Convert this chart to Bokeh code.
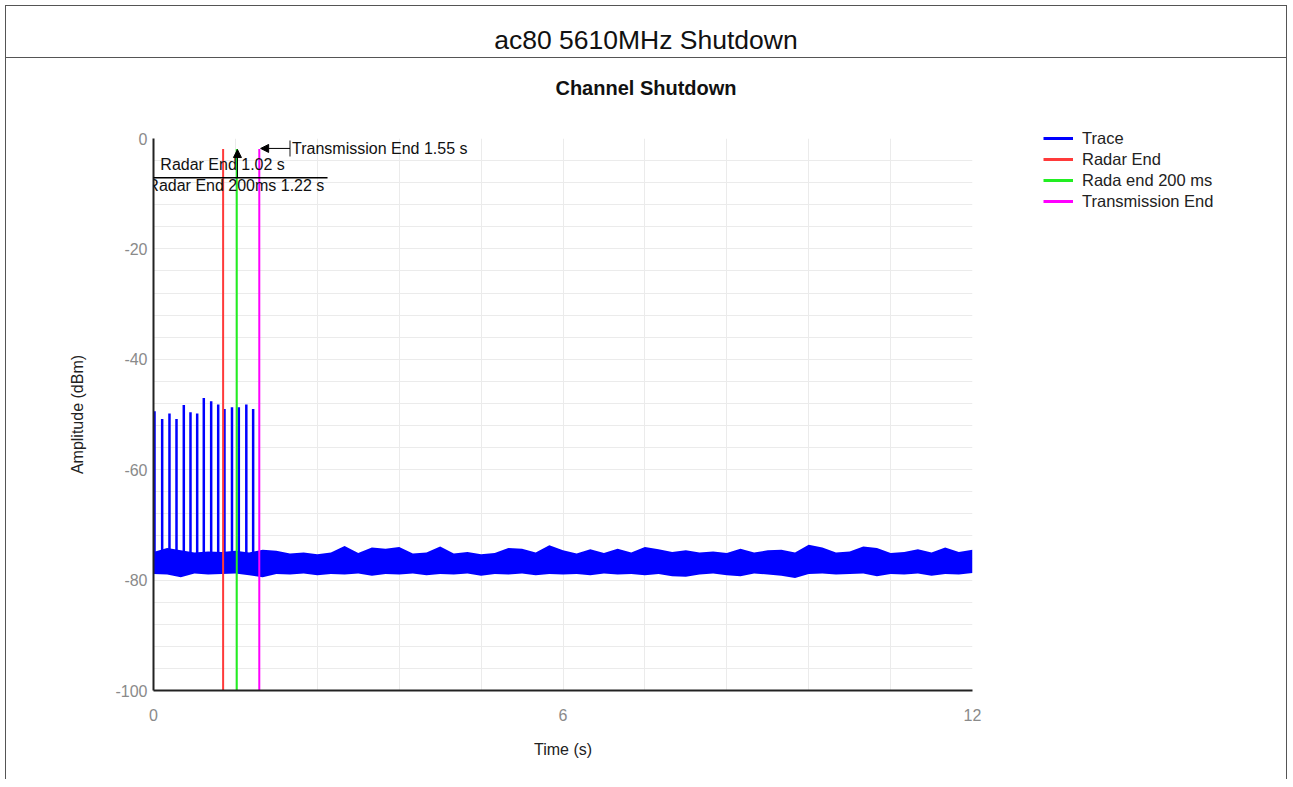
from bokeh.plotting import figure
from bokeh.models import (Div, Label, Arrow, NormalHead, TeeHead, Legend, LegendItem,
                          FixedTicker, Range1d, PrintfTickFormatter)
from bokeh.layouts import column, row
from bokeh.embed import file_html
from bokeh.resources import INLINE

# ---------------- data ----------------
page_title = "ac80 5610MHz Shutdown"
chart_title = "Channel Shutdown"

# noise-floor envelope of the trace, sampled every 0.2 s (dBm)
env_t = [round(0.2 * i, 1) for i in range(61)]
env_upper = [-74.9, -74.2, -74.6, -75.0, -74.8, -74.9, -74.7, -75.0, -74.5, -74.7,
             -75.2, -75.0, -75.3, -75.0, -73.8, -75.1, -74.1, -74.3, -74.0, -75.2,
             -75.0, -73.9, -75.2, -74.9, -75.3, -75.1, -74.2, -74.3, -75.0, -73.7,
             -74.6, -75.2, -74.4, -75.1, -74.3, -75.0, -74.0, -74.4, -74.9, -74.6,
             -75.0, -74.8, -75.1, -74.3, -75.0, -74.6, -74.5, -75.0, -73.6, -74.1,
             -75.0, -74.8, -73.9, -74.2, -75.1, -74.9, -74.4, -75.0, -74.1, -74.9,
             -74.5]
env_lower = [-78.9, -79.0, -79.5, -78.8, -79.0, -78.9, -78.8, -79.1, -79.5, -78.9,
             -79.0, -78.8, -79.1, -78.9, -79.0, -78.8, -79.2, -78.9, -79.0, -78.8,
             -79.1, -78.9, -79.0, -78.8, -79.2, -78.9, -79.0, -78.8, -79.1, -78.9,
             -79.0, -78.9, -79.1, -78.8, -79.0, -78.9, -79.1, -78.9, -79.3, -79.4,
             -79.0, -78.8, -79.1, -79.3, -78.8, -79.0, -79.2, -79.6, -78.9, -78.8,
             -79.0, -78.9, -78.8, -79.3, -78.9, -79.0, -78.8, -79.2, -78.9, -79.0,
             -78.7]

# radar-burst pulses on the trace
pulse_t = [0.015, 0.127, 0.234, 0.337, 0.444, 0.542, 0.640, 0.737, 0.845, 0.948,
           1.04, 1.15, 1.25, 1.36, 1.46]
pulse_peak = [-49.4, -50.8, -49.8, -50.8, -48.3, -49.6, -49.8, -47.0, -47.6, -48.2,
              -49.0, -48.7, -48.7, -48.2, -49.0]
pulse_base = -76.0

# marker lines
radar_end = 1.02
radar_end_200 = 1.22
tx_end = 1.55
marker_top = -1.9

series_names = ["Trace", "Radar End", "Rada end 200 ms", "Transmission End"]
series_colors = ["#0000ff", "#ff3a3a", "#22ee22", "#ff00ff"]

x_ticks = [0, 6, 12]
y_ticks = [0, -20, -40, -60, -80, -100]

FONT = "Liberation Sans"

# ---------------- main figure ----------------
p = figure(width=1027, height=661, output_backend="svg", toolbar_location=None,
           x_range=Range1d(0, 12), y_range=Range1d(-100, 0),
           min_border_left=147, min_border_right=61, min_border_top=20, min_border_bottom=89)
p.outline_line_color = None
p.background_fill_color = "white"
p.border_fill_color = "white"

# grid
p.xgrid.ticker = FixedTicker(ticks=[1.2 * i for i in range(11)])
p.ygrid.ticker = FixedTicker(ticks=list(range(-100, 1, 4)))
p.grid.grid_line_color = "#ebebeb"
p.grid.grid_line_width = 1

# axes
p.xaxis.ticker = FixedTicker(ticks=x_ticks)
p.yaxis.ticker = FixedTicker(ticks=y_ticks)
for ax in (p.xaxis[0], p.yaxis[0]):
    ax.formatter = PrintfTickFormatter(format="%d")
    ax.axis_line_color = "#222222"
    ax.axis_line_width = 2
    ax.major_tick_line_color = None
    ax.minor_tick_line_color = None
    ax.major_label_text_color = "#8a8a8a"
    ax.major_label_text_font = FONT
    ax.major_label_text_font_size = "16px"
    ax.axis_label_text_font = FONT
    ax.axis_label_text_font_size = "16px"
    ax.axis_label_text_font_style = "normal"
    ax.axis_label_text_color = "#222222"
p.xaxis.axis_label = "Time (s)"
p.yaxis.axis_label = "Amplitude (dBm)"
p.xaxis.major_label_standoff = 12
p.xaxis.axis_label_standoff = 17
p.yaxis.major_label_standoff = 0
p.yaxis.axis_label_standoff = 26

# trace: noise band + pulses
p.varea(x=env_t, y1=env_lower, y2=env_upper, fill_color=series_colors[0], fill_alpha=1.0)
p.segment(x0=pulse_t, y0=[pulse_base] * len(pulse_t), x1=pulse_t, y1=pulse_peak,
          line_color=series_colors[0], line_width=2.5)

# marker lines
marker_t = [radar_end, radar_end_200, tx_end]
for t, c in zip(marker_t, series_colors[1:]):
    p.segment(x0=[t], y0=[-100], x1=[t], y1=[marker_top], line_color=c, line_width=2)

# annotations
p.add_layout(Arrow(x_start=2.0, y_start=-1.8, x_end=tx_end + 0.02, y_end=-1.8,
                   line_color="black", line_width=1,
                   start=TeeHead(size=16, line_color="#666666", line_width=1.5),
                   end=NormalHead(size=8, fill_color="black", line_color="black")))
p.add_layout(Arrow(x_start=radar_end_200 + 0.01, y_start=-7.1, x_end=radar_end_200 + 0.01, y_end=-2.0,
                   line_color="black", line_width=1,
                   end=NormalHead(size=8, fill_color="black", line_color="black")))
p.add_layout(Arrow(x_start=-0.09, y_start=-7.1, x_end=2.55, y_end=-7.1,
                   line_color="black", line_width=1.5, end=None))

p.add_layout(Label(x=2.03, y=-1.8, text="Transmission End 1.55 s", text_baseline="middle",
                   text_font=FONT, text_font_size="16px", text_color="#111111"))
p.add_layout(Label(x=0.10, y=-4.8, text="Radar End 1.02 s", text_baseline="middle",
                   text_font=FONT, text_font_size="16px", text_color="#111111"))
p.add_layout(Label(x=-0.09, y=-8.6, text="Radar End 200ms 1.22 s", text_baseline="middle",
                   text_font=FONT, text_font_size="16px", text_color="#111111"))

# ---------------- legend panel (separate canvas to the right) ----------------
# it uses the same series and data ranges as the chart, but its (empty) frame shows no
# data region, so only the legend keys are visible
pl = figure(width=253, height=661, output_backend="svg", toolbar_location=None,
            x_axis_type=None, y_axis_type=None, x_range=Range1d(20, 21), y_range=Range1d(20, 21),
            min_border=0)
pl.outline_line_color = None
pl.grid.visible = False
items = []
r = pl.line(x=env_t, y=env_upper, line_color=series_colors[0], line_width=3)
items.append(LegendItem(label=series_names[0], renderers=[r]))
for name, t, c in zip(series_names[1:], marker_t, series_colors[1:]):
    r = pl.line(x=[t, t], y=[-100, marker_top], line_color=c, line_width=3)
    items.append(LegendItem(label=name, renderers=[r]))
legend = Legend(items=items, location="top_left")
legend.background_fill_alpha = 0
legend.border_line_alpha = 0
legend.label_text_font = FONT
legend.label_text_font_size = "16.5px"
legend.label_text_color = "#222222"
legend.glyph_width = 30
legend.glyph_height = 20
legend.label_height = 20
legend.label_standoff = 9
legend.spacing = 1
legend.padding = 10
legend.margin = 0
pl.add_layout(legend)

# ---------------- outer title bar and chart title ----------------
title_div = Div(text=('<div style="box-sizing:border-box;width:1280px;height:52px;'
                      'border-bottom:1px solid #555555;text-align:center;'
                      "font-family:'Liberation Sans',Arial,sans-serif;font-size:26.5px;"
                      'color:#111111;padding-top:20px;line-height:28px;">'
                      + page_title + '</div>'),
                width=1280, height=52, margin=0)
chart_div = Div(text=('<div style="box-sizing:border-box;width:1280px;height:60px;'
                      'text-align:center;'
                      "font-family:'Liberation Sans',Arial,sans-serif;font-size:20px;"
                      'font-weight:bold;color:#111111;padding-top:19px;line-height:22px;">'
                      + chart_title + '</div>'),
                width=1280, height=60, margin=0)

layout = column(title_div, chart_div, row(p, column(pl, margin=0), margin=0), margin=(5, 0, 0, 5),
                styles={"border-top": "1px solid #555555", "border-left": "1px solid #555555",
                        "border-right": "1px solid #555555", "box-sizing": "content-box"})

open("out.html", "w").write(file_html(layout, INLINE))
